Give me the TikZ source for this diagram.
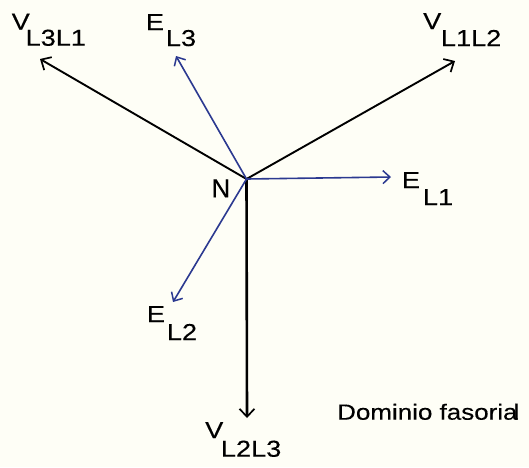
\documentclass[tikz,border=0pt]{standalone}
\usepackage{fontspec}
\setmainfont{Liberation Sans}
\newfontfamily\labfont[FakeStretch=1.18,FakeBold=0.3]{Liberation Sans}
\newfontfamily\nfont[FakeBold=0.3]{Liberation Sans}
\usetikzlibrary{arrows.meta}
\definecolor{bg}{RGB}{254,254,246}
\definecolor{eblue}{RGB}{43,57,144}
\begin{document}
\begin{tikzpicture}[x=1pt,y=-1pt,
  lab/.style={inner sep=0pt, anchor=base west, font=\labfont\fontsize{23}{23}\selectfont},
  nlab/.style={inner sep=0pt, anchor=base west, font=\nfont\fontsize{26}{26}\selectfont},
  domtext/.style={inner sep=0pt, anchor=base west, font=\labfont\fontsize{22}{22}\selectfont},
  vline/.style={black, line width=1.9pt, -{Straight Barb[length=8pt,width=15pt,line width=1.7pt]}},
  eline/.style={eblue, line width=1.6pt, -{Straight Barb[length=7pt,width=13pt,line width=1.5pt]}}]
\fill[bg] (0,0) rectangle (529,467);
\useasboundingbox (0,0) rectangle (529,467);
\coordinate (O) at (246.5,179);
\coordinate (tVL3L1) at (40,59);
\coordinate (tVL1L2) at (455,61);
\coordinate (tVL2L3) at (247,418);
\coordinate (tEL1) at (391,177);
\coordinate (tEL2) at (173,302);
\coordinate (tEL3) at (176,56);
\draw[vline] (O) -- (tVL3L1);
\draw[vline] (O) -- (tVL1L2);
\draw[vline, line width=2.6pt] (O) -- (tVL2L3);
\draw[eline] (O) -- (tEL1);
\draw[eline] (O) -- (tEL2);
\draw[eline] (O) -- (tEL3);
\node[lab] (vA) at (11.5,29.5) {V};
\node[lab] (vAs) at (25.4,45.7) {L3L1};
\node[lab] (eC) at (145.7,30) {E};
\node[lab] (eCs) at (165.7,46) {L3};
\node[lab] (vB) at (423,29) {V};
\node[lab] (vBs) at (440.7,46) {L1L2};
\node[lab] (eA) at (401.7,188) {E};
\node[lab] (eAs) at (422.7,205) {L1};
\node[nlab] (nN) at (211.3,197.3) {N};
\node[lab] (eB) at (146.7,322) {E};
\node[lab] (eBs) at (166.7,340) {L2};
\node[lab] (vC) at (205,438) {V};
\node[lab] (vCs) at (220.7,456.7) {L2L3};
\node[domtext] (dom) at (337,419.7) {Dominio fasoria\kern-4pt l};
\end{tikzpicture}
\end{document}
